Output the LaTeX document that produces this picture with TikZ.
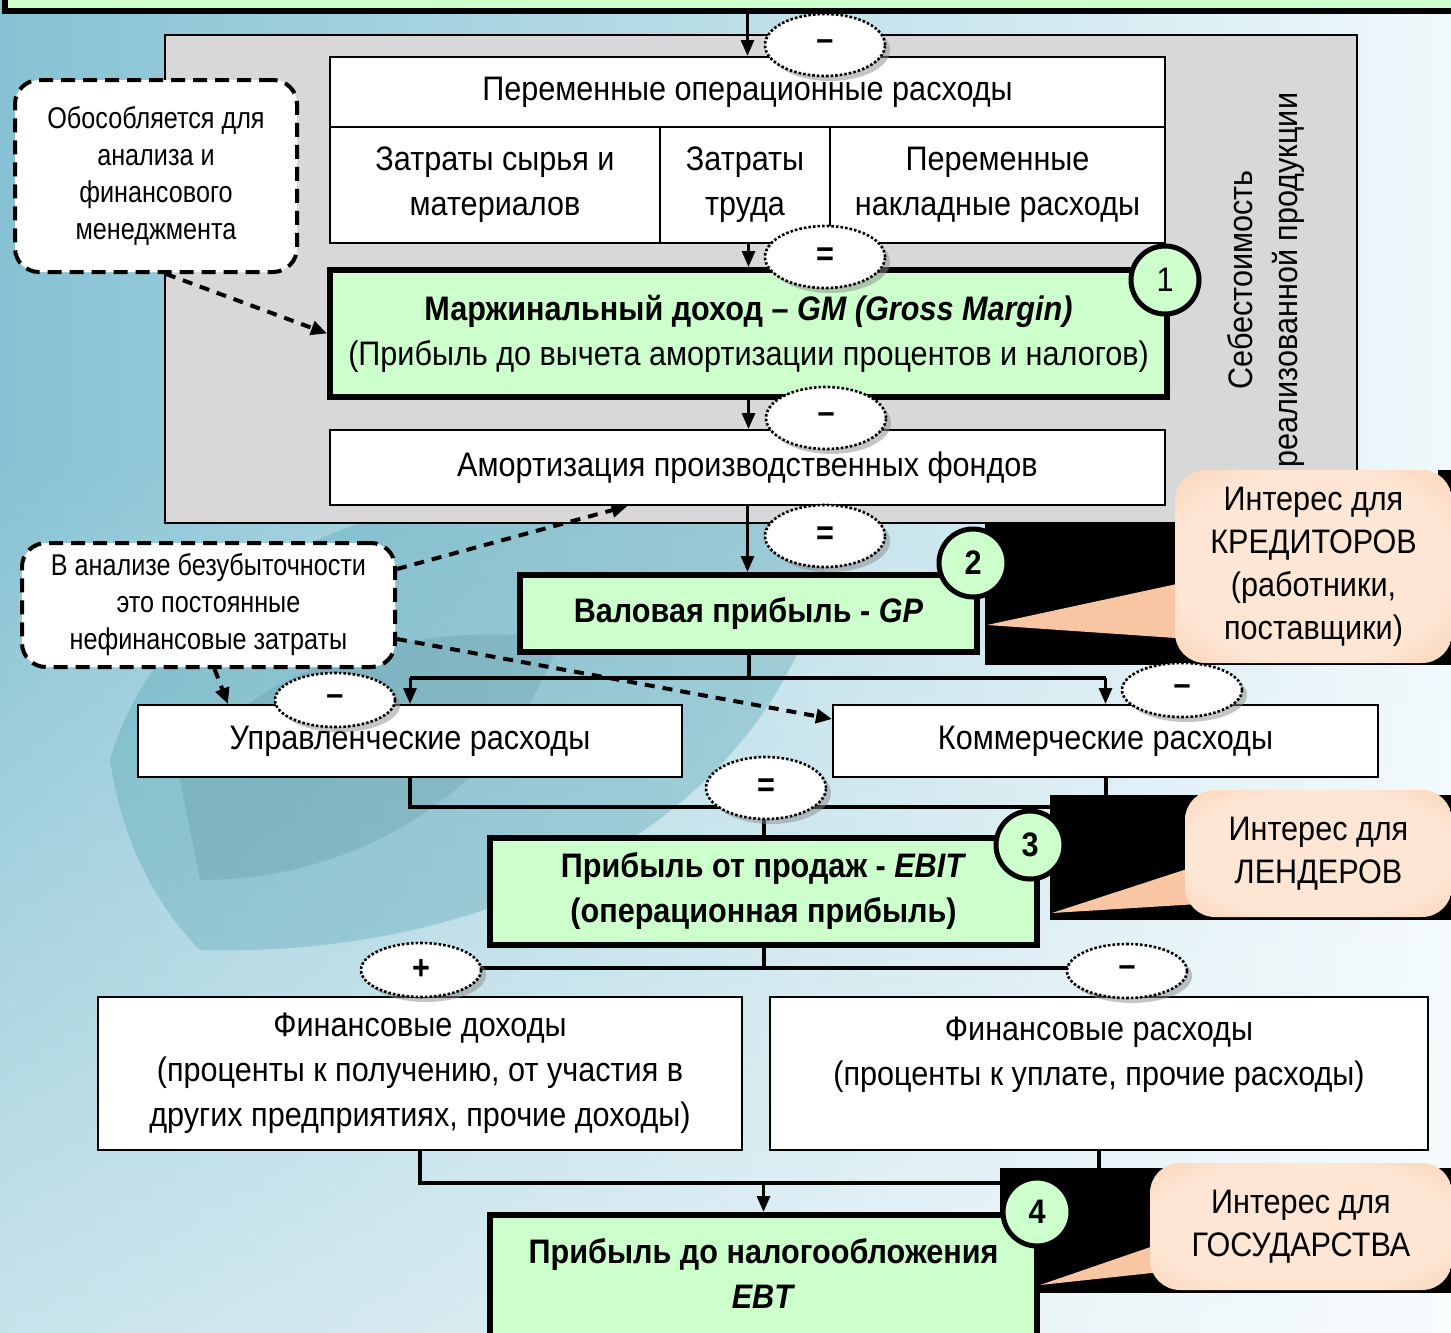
\documentclass[tikz,border=0pt]{standalone}
\usepackage{fontspec}
\setmainfont{Liberation Sans}[FakeStretch=0.9]
\newfontfamily\narrowfont{Liberation Sans}[FakeStretch=0.84]
\usetikzlibrary{arrows.meta,shapes.geometric,shadows,calc,fadings}
\pgfdeclarelayer{back}\pgfdeclarelayer{mid}\pgfsetlayers{back,mid,main}
\definecolor{gfill}{HTML}{CCFFCC}
\definecolor{grayfill}{HTML}{D8D8D8}
\definecolor{bgL}{HTML}{86C2D3}
\definecolor{bgR}{HTML}{F0F9FC}
\definecolor{leaf}{HTML}{5AA7B6}
\definecolor{peachin}{HTML}{FDE6D4}
\definecolor{peachmid}{HTML}{F9C6A3}
\definecolor{peachout}{HTML}{F29B62}
\pgfdeclareradialshading{peach}{\pgfpoint{0bp}{0bp}}{color(0bp)=(peachin); color(25bp)=(peachin); color(45bp)=(peachmid); color(70bp)=(peachout)}
% box from pixel corners: style, name, x1, y1, x2, y2, text
\newcommand\mkbox[7]{%
  \pgfmathsetmacro\mkbw{abs(#5-#3)*0.5}%
  \pgfmathsetmacro\mkbh{abs(#6-#4)*0.5}%
  \pgfmathsetmacro\mkbx{(#3+#5)/2}%
  \pgfmathsetmacro\mkby{(#4+#6)/2}%
  \node[#1, minimum width=\mkbw pt, minimum height=\mkbh pt] (#2) at (\mkbx,\mkby) {#7};}
\begin{document}
\begin{tikzpicture}[x=0.5pt,y=-0.5pt,
  box/.style={draw, line width=1pt, fill=white, inner sep=0pt, align=center, font=\fontsize{17}{22.5}\selectfont},
  gbox/.style={draw, line width=3pt, fill=gfill, inner sep=0pt, align=center, font=\bfseries\fontsize{17}{22.5}\selectfont},
  op/.style={ellipse, draw, densely dotted, line width=1.3pt, fill=white, minimum width=60pt, minimum height=31pt, inner sep=0pt, font=\bfseries\fontsize{17}{17}\selectfont, drop shadow={shadow xshift=2.5pt, shadow yshift=-2.5pt, fill=black!45}},
  num/.style={circle, draw, line width=2.5pt, fill=gfill, minimum size=34pt, inner sep=0pt, font=\fontsize{17}{17}\selectfont},
  note/.style={draw, line width=2pt, dash pattern=on 7pt off 4pt, rounded corners=12pt, fill=white, align=center, inner sep=0pt, font=\narrowfont\fontsize{15}{18.5}\selectfont},
  callout/.style={shade, shading=peach, rounded corners=15pt, inner sep=0pt, align=center, font=\fontsize{17}{21.5}\selectfont},
  ptr/.style={fill=peachmid},
  arr/.style={line width=1.5pt, -{Triangle[length=8pt,width=6.5pt]}},
  conn/.style={line width=2pt},
  darr/.style={line width=2pt, dash pattern=on 5pt off 4pt, -{Triangle[length=8pt,width=7pt]}},
  vert/.style={rotate=90, align=center, font=\fontsize{17}{22.5}\selectfont}
]
\useasboundingbox (0,0) rectangle (1451,1333);
\clip (0,0) rectangle (1451,1333);

\begin{pgfonlayer}{back}
  \fill[left color=bgL, right color=bgR] (0,0) rectangle (1451,1333);
  \fill[white, opacity=0.55, path fading=north] (0,450) rectangle (1451,1333);
  \fill[leaf, opacity=0.38] (110,760) .. controls (180,520) and (520,430) .. (830,520) .. controls (820,760) and (560,960) .. (200,950) .. controls (150,900) and (120,830) .. (110,760) -- cycle;
  \fill[leaf!70!black, opacity=0.18] (180,780) .. controls (250,650) and (450,620) .. (560,640) .. controls (500,800) and (350,880) .. (200,880) -- cycle;
  \mkbox{draw, line width=1pt, fill=grayfill, inner sep=0pt}{costarea}{165}{35}{1357}{523}{}
  \fill[black] (985,523) rectangle (1451,665);
  \fill[black] (1438,470) rectangle (1451,523);
  \fill[black] (1050,795) rectangle (1451,920);
  \fill[black] (1000,1168) rectangle (1451,1293);
\end{pgfonlayer}

% boxes
\mkbox{gbox}{top}{5}{-40}{1480}{11}{}
\mkbox{box}{vo}{330}{57}{1165}{127}{Переменные операционные расходы}
\mkbox{box}{raw}{330}{127}{660}{243}{Затраты сырья и\\материалов}
\mkbox{box}{lab}{660}{127}{830}{243}{Затраты\\труда}
\mkbox{box}{ovh}{830}{127}{1165}{243}{Переменные\\накладные расходы}
\mkbox{gbox}{gm}{330}{270}{1167}{397}{Маржинальный доход – \textit{GM (Gross Margin)}\\\mdseries(Прибыль до вычета амортизации процентов и налогов)}
\mkbox{box}{am}{330}{430}{1165}{505}{Амортизация производственных фондов}
\node[vert] (cost) at (1266,280) {Себестоимость\\реализованной продукции};
\mkbox{gbox}{gp}{520}{575}{977}{652}{Валовая прибыль - \textit{GP}}
\mkbox{box}{upr}{138}{705}{682}{777}{Управленческие расходы}
\mkbox{box}{kom}{833}{705}{1378}{777}{Коммерческие расходы}
\mkbox{gbox}{ebit}{490}{838}{1037}{945}{Прибыль от продаж - \textit{EBIT}\\(операционная прибыль)}
\mkbox{box}{fi}{98}{997}{742}{1150}{Финансовые доходы\\(проценты к получению, от участия в\\других предприятиях, прочие доходы)}
\mkbox{box}{fe}{770}{997}{1428}{1150}{Финансовые расходы\\(проценты к уплате, прочие расходы)\\\mbox{}}
\mkbox{gbox}{ebt}{490}{1215}{1037}{1348}{Прибыль до налогообложения\\\textit{EBT}\\[-14.5pt]\mbox{}}

% notes
\mkbox{note}{n1}{15}{80}{297}{272}{Обособляется для\\анализа и\\финансового\\менеджмента}
\mkbox{note}{n2}{22}{543}{395}{667}{В анализе безубыточности\\это постоянные\\нефинансовые затраты}

% callouts
\mkbox{callout}{c1}{1175}{470}{1452}{663}{Интерес для\\КРЕДИТОРОВ\\(работники,\\поставщики)}
\mkbox{callout}{c2}{1185}{790}{1452}{917}{Интерес для\\ЛЕНДЕРОВ}
\mkbox{callout}{c3}{1150}{1163}{1452}{1290}{Интерес для\\ГОСУДАРСТВА}

\begin{pgfonlayer}{mid}
  \fill[ptr] ($(c1.west |- 0,578)+(15pt,0)$) -- (987,625) -- ($(c1.west |- 0,640)+(15pt,0)$) -- cycle;
  \fill[ptr] ($(c2.west |- 0,860)+(15pt,0)$) -- (1052,913) -- ($(c2.west |- 0,903)+(15pt,0)$) -- cycle;
  \fill[ptr] ($(c3.west |- 0,1237)+(15pt,0)$) -- (1040,1285) -- ($(c3.west |- 0,1270)+(15pt,0)$) -- cycle;

  \draw[arr] (top.south -| vo.north) -- (vo.north);
  \draw[arr] (lab.south -| gm.north) -- (gm.north);
  \draw[arr] (gm.south) -- (gm.south |- am.north);
  \draw[arr] (am.south) -- (am.south |- gp.north);
  \coordinate (j1) at (gp.south |- 0,678);
  \draw[conn] (gp.south) -- (j1);
  \draw[conn] (upr.north |- j1) -- (kom.north |- j1);
  \draw[arr] (upr.north |- j1) -- (upr.north);
  \draw[arr] (kom.north |- j1) -- (kom.north);
  \coordinate (j2) at (ebit.north |- 0,807);
  \draw[conn] (upr.south) |- (j2) -| (kom.south);
  \draw[conn] (j2) -- (ebit.north);
  \coordinate (j3) at (ebit.south |- 0,968);
  \draw[conn] (ebit.south) -- (j3);
  \draw[conn] (fi.north |- j3) -- (fe.north |- j3);
  \draw[conn] (fi.north |- j3) -- (fi.north);
  \draw[conn] (fe.north |- j3) -- (fe.north);
  \coordinate (j4) at (ebt.north |- 0,1183);
  \draw[conn] (fi.south) |- (j4) -| (fe.south);
  \draw[arr] (j4) -- (ebt.north);

  \draw[darr] ([xshift=5pt]n1.south) -- (gm.west);
  \draw[darr] ([yshift=18pt]n2.east) -- ([xshift=-60pt]am.south);
  \draw[darr] ([xshift=3pt]n2.south) -- ([xshift=-91pt]upr.north);
  \draw[darr] ([yshift=-17pt]n2.east) -- ([yshift=11pt]kom.west);
\end{pgfonlayer}

% operators
\node[op] (o1) at (825,45) {–};
\node[op] (o2) at (825,257) {=};
\node[op] (o3) at (826,418) {–};
\node[op] (o4) at (825,536) {=};
\node[op, minimum height=27pt] (o5) at (335,700) {–};
\node[op, minimum height=27pt] (o6) at (1182,690) {–};
\node[op] (o7) at (766,788) {=};
\node[op, minimum height=27pt] (o8) at (421,970) {+};
\node[op, minimum height=27pt] (o9) at (1127,971) {–};

% numbers
\node[num] (k1) at (1165,280) {1};
\node[num, font=\bfseries\fontsize{17}{17}\selectfont] (k2) at (973,563) {2};
\node[num, font=\bfseries\fontsize{17}{17}\selectfont] (k3) at (1030,845) {3};
\node[num, font=\bfseries\fontsize{17}{17}\selectfont] (k4) at (1037,1212) {4};
\end{tikzpicture}
\end{document}
